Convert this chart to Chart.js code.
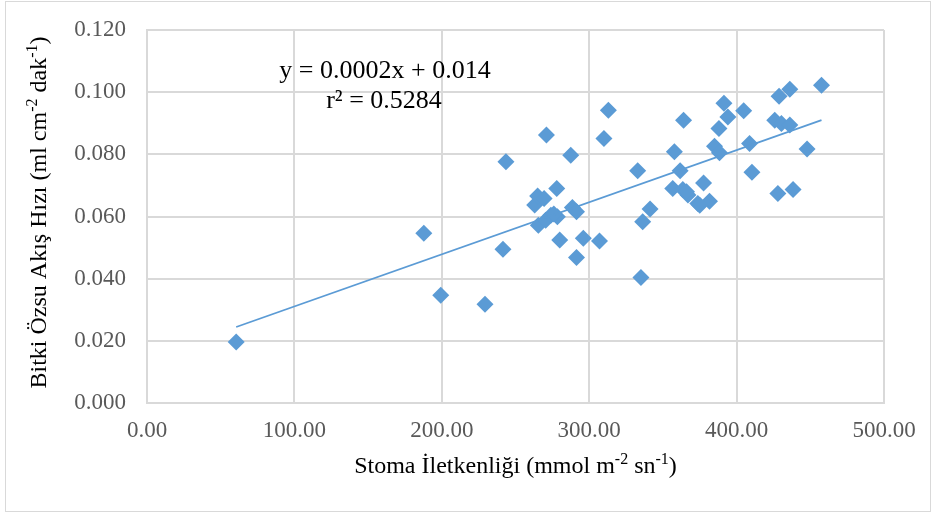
<!DOCTYPE html>
<html lang="tr">
<head>
<meta charset="utf-8">
<title>Stoma İletkenliği - Bitki Özsu Akış Hızı</title>
<script src="https://cdn.jsdelivr.net/npm/chart.js@4.4.0/dist/chart.umd.min.js"></script>
<style>
    html, body { margin: 0; padding: 0; background: #fff; }
    #wrap { position: relative; width: 937px; height: 513px; }
    #frame { position: absolute; left: 5px; top: 1px; width: 926px; height: 511px; border: 1px solid #d9d9d9; box-sizing: border-box; pointer-events: none; }
    #chart-stoma { position: absolute; left: 0; top: 0; }
</style>
</head>
<body>
<div id="wrap">
    <canvas id="chart-stoma" width="937" height="513"></canvas>
    <div id="frame"></div>
</div>
<script>
// Stoma iletkenliği (x) - mmol m-2 sn-1
const stomaIletkenligi = [
    60.5, 187.8, 199.3, 229.3, 241.5, 243.5, 271.0, 263.0, 265.0, 269.4,
    265.5, 270.5, 274.0, 278.4, 278.0, 280.0, 287.5, 288.6, 291.4, 291.4,
    296.0, 307.0, 310.0, 313.0, 332.9, 335.1, 336.3, 341.3, 356.7, 357.8,
    361.7, 363.5, 364.0, 367.0, 373.7, 377.6, 381.6, 385.0, 388.4, 388.0,
    391.4, 394.1, 404.8, 408.8, 410.4, 425.9, 428.8, 430.4, 436.1, 436.1,
    438.3, 428.0, 447.8, 457.6, 366.0, 375.0, 276.0
];

// Bitki özsu akış hızı (y) - ml cm-2 dak-1
const ozsuAkisHizi = [
    0.0196, 0.0546, 0.0347, 0.0318, 0.0495, 0.0776, 0.0862, 0.0637, 0.0666, 0.0658,
    0.0572, 0.0588, 0.0604, 0.0599, 0.0690, 0.0524, 0.0797, 0.0629, 0.0615, 0.0468,
    0.0530, 0.0521, 0.0851, 0.0942, 0.0747, 0.0404, 0.0583, 0.0624, 0.0690, 0.0808,
    0.0747, 0.0687, 0.0910, 0.0669, 0.0642, 0.0708, 0.0649, 0.0826, 0.0805, 0.0883,
    0.0964, 0.0920, 0.0940, 0.0835, 0.0742, 0.0910, 0.0987, 0.0899, 0.0894, 0.1009,
    0.0687, 0.0674, 0.0817, 0.1022, 0.0680, 0.0636, 0.0608
];

// Etiketler
const xTickLabels = ['0.00', '100.00', '200.00', '300.00', '400.00', '500.00'];
const yTickLabels = ['0.000', '0.020', '0.040', '0.060', '0.080', '0.100', '0.120'];
const trendLabels = ['y = 0.0002x + 0.014', 'r\u00B2 = 0.5284'];
const xTitleParts = [{ t: 'Stoma İletkenliği (mmol m' }, { t: '-2', sup: true }, { t: ' sn' }, { t: '-1', sup: true }, { t: ')' }];
const yTitleParts = [{ t: 'Bitki Özsu Akış Hızı (ml cm' }, { t: '-2', sup: true }, { t: ' dak' }, { t: '-1', sup: true }, { t: ')' }];

const SERIF = '"Liberation Serif", "Times New Roman", serif';
const BLUE = '#5b9bd5';
const GRID = '#d9d9d9';

// Texto con superíndices (centrado, opcionalmente rotado)
function drawRich(ctx, parts, cx, cy, size, rot) {
    const base = size + 'px ' + SERIF;
    const small = Math.round(size * 0.66) + 'px ' + SERIF;
    let total = 0;
    parts.forEach(p => {
        ctx.font = p.sup ? small : base;
        total += ctx.measureText(p.t).width;
    });
    ctx.save();
    ctx.translate(cx, cy);
    ctx.rotate(rot);
    ctx.fillStyle = '#000';
    ctx.textAlign = 'left';
    ctx.textBaseline = 'alphabetic';
    let x = -total / 2;
    parts.forEach(p => {
        ctx.font = p.sup ? small : base;
        ctx.fillText(p.t, x, p.sup ? -size * 0.36 : 0);
        x += ctx.measureText(p.t).width;
    });
    ctx.restore();
}

window.ChartView = {
    chart: null,

    init() {
        this.setupChart();
    },

    // Línea de tendencia por mínimos cuadrados
    trendPoints() {
        const n = stomaIletkenligi.length;
        let sx = 0, sy = 0, sxx = 0, sxy = 0;
        for (let i = 0; i < n; i++) {
            sx += stomaIletkenligi[i];
            sy += ozsuAkisHizi[i];
            sxx += stomaIletkenligi[i] * stomaIletkenligi[i];
            sxy += stomaIletkenligi[i] * ozsuAkisHizi[i];
        }
        const slope = (n * sxy - sx * sy) / (n * sxx - sx * sx);
        const intercept = (sy - slope * sx) / n;
        const xMin = Math.min(...stomaIletkenligi);
        const xMax = Math.max(...stomaIletkenligi);
        return [
            { x: xMin, y: slope * xMin + intercept },
            { x: xMax, y: slope * xMax + intercept }
        ];
    },

    setupChart() {
        const ctx = document.getElementById('chart-stoma');
        if (!ctx) return;

        const titlesPlugin = {
            id: 'richTitles',
            afterDraw(chart) {
                const c = chart.ctx;
                const area = chart.chartArea;
                drawRich(c, xTitleParts, (area.left + area.right) / 2, 473, 24, 0);
                drawRich(c, yTitleParts, 46, (area.top + area.bottom) / 2 - 4, 24, -Math.PI / 2);

                // Ecuación de la tendencia
                c.save();
                c.font = '26px ' + SERIF;
                c.fillStyle = '#000';
                c.textAlign = 'center';
                c.textBaseline = 'alphabetic';
                c.fillText(trendLabels[0], 385, 78);
                c.fillText(trendLabels[1], 384, 108);
                c.restore();
            }
        };

        this.chart = new Chart(ctx, {
            type: 'scatter',
            data: {
                datasets: [
                    {
                        label: 'Doğrusal',
                        data: this.trendPoints(),
                        showLine: true,
                        borderColor: BLUE,
                        borderWidth: 1.8,
                        pointRadius: 0,
                        order: 0
                    },
                    {
                        label: 'Özsu',
                        data: stomaIletkenligi.map((x, i) => ({ x: x, y: ozsuAkisHizi[i] })),
                        pointStyle: 'rectRot',
                        pointRadius: 8.5,
                        pointHoverRadius: 8.5,
                        backgroundColor: BLUE,
                        borderWidth: 0,
                        order: 1
                    }
                ]
            },
            options: {
                responsive: false,
                animation: false,
                layout: {
                    padding: { left: 67, top: 30, right: 53, bottom: 60 }
                },
                plugins: {
                    legend: { display: false },
                    tooltip: { enabled: false }
                },
                scales: {
                    x: {
                        type: 'linear',
                        min: 0,
                        max: 500,
                        afterFit(scale) {
                            scale.height = 50;
                            scale.paddingLeft = 0;
                            scale.paddingRight = 0;
                        },
                        afterBuildTicks(scale) {
                            scale.ticks = xTickLabels.map(l => ({ value: parseFloat(l) }));
                        },
                        ticks: {
                            padding: 14,
                            color: '#595959',
                            font: { family: SERIF, size: 23 },
                            callback: (v, i) => xTickLabels[i]
                        },
                        grid: { color: GRID, lineWidth: 2, drawTicks: false },
                        border: { color: GRID, width: 2 }
                    },
                    y: {
                        min: 0,
                        max: 0.12,
                        afterFit(scale) {
                            scale.width = 80;
                            scale.paddingTop = 0;
                            scale.paddingBottom = 0;
                        },
                        afterBuildTicks(scale) {
                            scale.ticks = yTickLabels.map(l => ({ value: parseFloat(l) }));
                        },
                        ticks: {
                            padding: 21,
                            color: '#595959',
                            font: { family: SERIF, size: 23 },
                            callback: (v, i) => yTickLabels[i]
                        },
                        grid: { color: GRID, lineWidth: 2, drawTicks: false },
                        border: { color: GRID, width: 2 }
                    }
                }
            },
            plugins: [titlesPlugin]
        });
    }
};

if (document.readyState === 'loading') {
    document.addEventListener('DOMContentLoaded', () => window.ChartView.init());
} else {
    window.ChartView.init();
}
</script>
</body>
</html>
